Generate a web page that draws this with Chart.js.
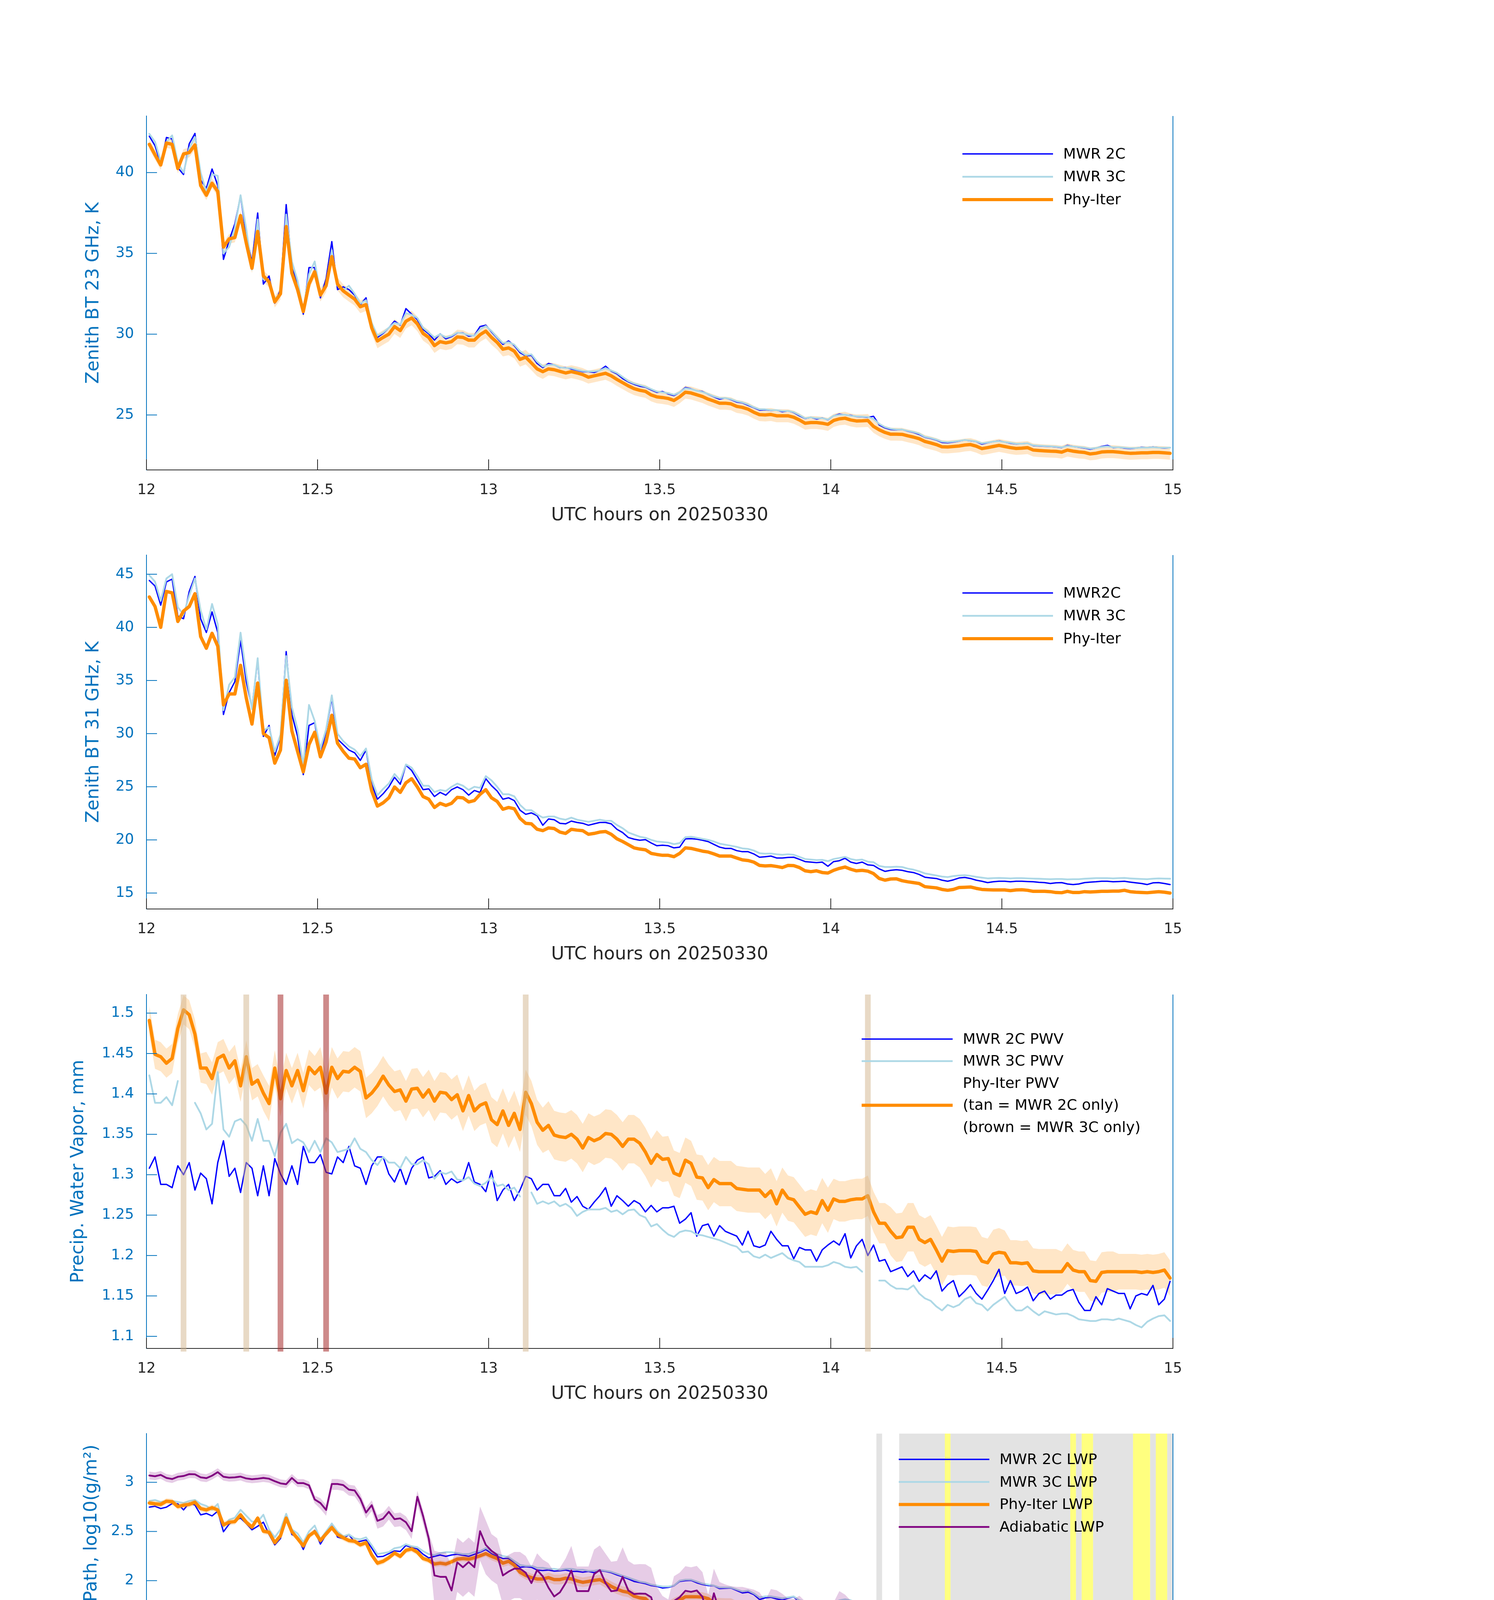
<!DOCTYPE html>
<html>
<head>
<meta charset="utf-8">
<script src="https://cdn.jsdelivr.net/npm/chart.js@4.4.1/dist/chart.umd.min.js"></script>
<style>
html, body { margin: 0; padding: 0; background: #fff; }
body { width: 3825px; height: 6000px; position: relative; overflow: hidden; }
canvas { position: absolute; left: 0; }
</style>
</head>
<body>
<canvas id="p1" width="3825" height="1206"></canvas>
<canvas id="p2" width="3825" height="1206"></canvas>
<canvas id="p3" width="3825" height="1206"></canvas>
<canvas id="p4" width="3825" height="1206"></canvas>
<canvas id="p5" width="3825" height="1206"></canvas>
<script>
// ---- data: one sample per minute, centred on the half minute, 12:00 - 15:00 UTC ----
const xTicks = [12, 12.5, 13, 13.5, 14, 14.5, 15];
const bt23Ticks = [25, 30, 35, 40];
const bt31Ticks = [15, 20, 25, 30, 35, 40, 45];
const pwvTicks = [1.1, 1.15, 1.2, 1.25, 1.3, 1.35, 1.4, 1.45, 1.5];
const lwpTicks = [0, 0.5, 1, 1.5, 2, 2.5, 3];
const flagTicks = [0, 2, 4, 6, 8, 10];

// 23 GHz brightness temperature, K
const bt23Phy = [41.75,41.1,40.47,41.83,41.75,40.25,41.15,41.24,41.71,39.2,38.6,39.34,38.83,35.39,35.9,35.98,37.34,35.64,34.08,36.36,
33.6,33.24,32.0,32.5,36.66,33.78,32.76,31.4,33.1,33.86,32.42,33.0,34.8,33.1,32.68,32.42,32.17,31.7,31.83,30.39,
29.58,29.8,30.0,30.47,30.22,30.8,31.0,30.64,30.05,29.8,29.29,29.54,29.46,29.54,29.83,29.8,29.63,29.63,29.97,30.19,
29.8,29.49,29.07,29.15,28.95,28.44,28.58,28.22,27.85,27.68,27.85,27.8,27.7,27.6,27.68,27.6,27.5,27.34,27.42,27.5,
27.58,27.42,27.2,27.0,26.8,26.63,26.53,26.46,26.24,26.12,26.08,26.02,25.9,26.12,26.41,26.36,26.25,26.14,25.98,25.86,
25.73,25.73,25.69,25.53,25.47,25.36,25.17,25.02,25.0,25.03,24.95,24.95,24.95,24.86,24.69,24.49,24.53,24.53,24.49,24.42,
24.66,24.76,24.8,24.69,24.63,24.64,24.66,24.29,24.08,23.92,23.81,23.81,23.8,23.71,23.63,23.53,23.36,23.27,23.17,23.03,
23.02,23.05,23.08,23.14,23.17,23.07,22.92,22.98,23.05,23.12,23.05,22.98,22.93,22.95,22.98,22.83,22.8,22.78,22.76,22.75,
22.7,22.83,22.76,22.71,22.68,22.59,22.63,22.71,22.73,22.73,22.7,22.66,22.63,22.64,22.66,22.66,22.68,22.68,22.66,22.63];
const bt23Mwr2c = [42.25,41.66,40.56,42.17,42.08,40.3,39.88,41.78,42.42,39.54,39.03,40.22,39.2,34.63,35.81,36.83,38.53,36.15,34.46,37.5,
33.1,33.6,31.92,32.76,38.02,34.12,33.1,31.24,34.12,34.12,32.25,33.44,35.73,32.76,32.93,32.76,32.42,31.83,32.25,30.56,
29.8,30.05,30.39,30.81,30.56,31.58,31.24,30.9,30.3,30.02,29.63,30.02,29.71,29.85,30.08,30.08,29.88,29.92,30.47,30.56,
30.14,29.75,29.37,29.58,29.29,28.86,28.66,28.69,28.19,27.93,28.19,28.1,27.93,27.93,27.85,27.76,27.68,27.68,27.63,27.76,
28.02,27.71,27.54,27.25,27.05,26.9,26.78,26.72,26.55,26.4,26.45,26.3,26.2,26.4,26.7,26.62,26.5,26.45,26.28,26.12,
25.98,26.05,25.95,25.8,25.75,25.6,25.45,25.3,25.32,25.28,25.3,25.2,25.25,25.15,24.95,24.78,24.85,24.75,24.82,24.7,
24.95,25.05,25.0,24.98,24.9,24.88,24.85,24.92,24.38,24.2,24.1,24.08,24.1,24.0,23.92,23.8,23.62,23.55,23.45,23.3,
23.28,23.32,23.38,23.45,23.4,23.35,23.2,23.28,23.35,23.4,23.32,23.25,23.2,23.22,23.25,23.1,23.08,23.06,23.05,23.02,
22.98,23.12,23.05,23.0,22.95,22.88,22.95,23.05,23.12,22.98,23.0,22.95,22.92,22.95,23.0,22.98,23.02,22.98,22.95,22.98];
const bt23Mwr3c = [42.4,41.9,40.7,41.9,42.3,40.6,40.0,41.5,42.2,40.0,38.8,39.9,39.8,35.0,35.4,36.6,38.6,36.5,34.0,37.1,
33.4,33.3,32.2,32.5,37.4,34.5,33.3,31.5,33.7,34.5,32.5,33.1,35.2,33.0,32.7,33.0,32.5,31.9,32.1,30.7,
29.9,30.1,30.4,30.7,30.6,31.3,31.2,31.0,30.4,30.1,29.8,30.0,29.8,29.9,30.1,30.05,29.95,29.9,30.3,30.5,
30.2,29.8,29.45,29.5,29.35,28.95,28.7,28.75,28.3,28.0,28.1,28.1,27.95,27.9,27.9,27.8,27.72,27.7,27.7,27.75,
27.9,27.75,27.6,27.35,27.1,26.95,26.85,26.75,26.6,26.45,26.4,26.35,26.25,26.4,26.65,26.6,26.5,26.42,26.3,26.15,
26.05,26.05,25.98,25.85,25.78,25.65,25.48,25.35,25.35,25.3,25.3,25.25,25.25,25.18,25.0,24.8,24.85,24.8,24.8,24.72,
24.95,25.0,25.02,24.95,24.92,24.9,24.88,24.75,24.45,24.25,24.15,24.1,24.1,24.02,23.95,23.85,23.65,23.58,23.48,23.35,
23.32,23.35,23.4,23.45,23.42,23.36,23.25,23.3,23.35,23.38,23.32,23.28,23.22,23.22,23.25,23.12,23.1,23.08,23.06,23.04,
23.0,23.08,23.05,23.02,22.98,22.92,22.96,23.02,23.06,23.0,23.0,22.98,22.95,22.96,22.98,22.98,23.0,22.98,22.97,22.98];
const bt23PhySigma = [0.3,0.3,0.35,0.4,0.45,0.45,0.45,0.4,0.4,0.4,0.4,0.4,0.4,0.4,0.4,0.4,0.4,0.4];

// 31 GHz brightness temperature, K
const bt31Phy = [42.86,41.96,40.0,43.38,43.25,40.55,41.53,41.96,43.17,39.13,38.03,39.44,38.23,32.7,33.73,33.73,36.43,33.35,30.9,34.76,
30.0,29.62,27.22,28.46,35.02,30.26,28.33,26.4,28.97,30.13,27.81,29.23,31.73,29.1,28.33,27.69,27.61,26.79,27.12,24.6,
23.18,23.49,23.96,24.98,24.47,25.37,25.76,24.98,24.08,23.83,23.05,23.44,23.24,23.44,24.0,23.96,23.57,23.7,24.29,24.73,
23.96,23.62,22.88,23.05,22.93,22.03,21.56,21.51,21.0,20.87,21.13,21.07,20.74,20.61,21.0,20.92,20.87,20.53,20.61,20.74,
20.79,20.53,20.1,19.85,19.55,19.25,19.14,19.07,18.73,18.63,18.55,18.55,18.42,18.73,19.25,19.2,19.07,18.94,18.86,18.68,
18.48,18.48,18.48,18.3,18.12,18.06,17.91,17.6,17.55,17.58,17.5,17.4,17.6,17.58,17.4,17.09,17.01,17.09,16.93,16.88,
17.14,17.32,17.45,17.24,17.09,17.14,17.06,16.83,16.37,16.21,16.32,16.34,16.16,16.06,15.98,15.9,15.6,15.54,15.49,15.34,
15.26,15.34,15.52,15.54,15.57,15.44,15.34,15.31,15.29,15.29,15.29,15.23,15.29,15.31,15.26,15.16,15.16,15.16,15.13,15.05,
15.03,15.16,15.05,15.05,15.13,15.1,15.13,15.16,15.16,15.18,15.18,15.26,15.13,15.08,15.05,15.03,15.08,15.13,15.08,15.0];
const bt31Mwr2c = [44.41,43.89,42.09,44.28,44.54,41.06,40.81,43.38,44.79,40.81,39.52,41.45,39.52,31.8,33.86,34.89,38.75,34.89,32.45,36.95,
29.74,30.77,27.94,29.74,37.72,31.8,29.74,26.14,30.77,31.03,27.94,30.26,33.35,29.49,28.97,28.46,28.2,27.48,28.46,25.24,
23.83,24.34,24.98,25.89,25.24,27.04,26.53,25.63,24.73,24.8,24.08,24.47,24.21,24.73,24.98,24.73,24.21,24.65,24.47,25.76,
25.11,24.6,23.83,23.96,23.7,22.8,22.41,22.54,22.28,21.38,21.97,21.9,21.56,21.51,21.77,21.64,21.56,21.38,21.51,21.64,
21.64,21.51,21.0,20.69,20.22,20.07,19.97,20.02,19.71,19.45,19.5,19.45,19.25,19.32,20.1,20.12,20.07,19.97,19.84,19.58,
19.32,19.2,19.2,18.99,18.89,18.89,18.68,18.37,18.42,18.48,18.3,18.3,18.35,18.37,18.17,17.96,17.91,17.86,17.91,17.52,
17.96,18.04,18.27,17.91,17.78,17.91,17.65,17.6,17.27,17.04,17.14,17.19,17.14,17.01,16.93,16.75,16.49,16.42,16.37,16.21,
16.11,16.24,16.42,16.47,16.37,16.21,16.11,15.98,16.06,16.11,16.11,16.06,16.11,16.11,16.08,16.06,16.01,15.98,15.9,15.96,
15.98,15.85,15.8,15.85,15.98,16.03,16.06,16.11,16.11,16.06,16.08,16.11,16.03,15.96,15.9,15.8,15.96,15.98,15.9,15.8];
const bt31Mwr3c = [44.9,44.3,42.5,44.6,45.0,41.9,41.2,43.0,44.6,41.6,39.8,42.2,40.3,32.2,34.6,35.3,39.5,35.6,32.3,37.1,
30.3,30.6,28.3,29.9,37.3,32.5,30.4,27.0,32.7,31.2,28.6,30.4,33.6,30.0,29.3,28.8,28.5,27.9,28.6,25.7,
24.2,24.8,25.3,26.2,25.6,27.1,26.8,26.0,25.1,25.1,24.5,24.7,24.6,25.0,25.3,25.1,24.7,25.0,24.9,26.0,
25.6,25.0,24.3,24.3,24.1,23.3,22.8,22.8,22.4,22.1,22.2,22.2,22.0,21.9,22.1,21.9,21.8,21.7,21.8,21.9,
21.8,21.8,21.4,21.1,20.7,20.5,20.3,20.2,20.0,19.85,19.8,19.75,19.6,19.7,20.25,20.3,20.2,20.1,20.0,19.85,
19.65,19.55,19.45,19.35,19.2,19.15,19.0,18.75,18.7,18.72,18.65,18.6,18.65,18.6,18.4,18.2,18.15,18.1,18.12,18.0,
18.2,18.3,18.4,18.2,18.1,18.15,17.95,17.9,17.55,17.45,17.45,17.48,17.45,17.3,17.2,17.05,16.85,16.75,16.65,16.55,
16.5,16.6,16.65,16.68,16.62,16.52,16.45,16.38,16.4,16.42,16.4,16.38,16.4,16.4,16.38,16.36,16.35,16.32,16.3,16.32,
16.32,16.28,16.3,16.3,16.35,16.38,16.4,16.4,16.4,16.38,16.4,16.42,16.38,16.35,16.32,16.3,16.35,16.38,16.36,16.35];

// precipitable water vapor, mm
const pwvPhy = [1.491,1.449,1.446,1.438,1.444,1.481,1.504,1.498,1.474,1.432,1.432,1.419,1.444,1.448,1.432,1.441,1.41,1.446,1.412,1.417,
1.401,1.388,1.432,1.394,1.429,1.41,1.429,1.404,1.433,1.425,1.433,1.401,1.433,1.419,1.428,1.427,1.433,1.428,1.395,1.401,
1.41,1.422,1.411,1.403,1.405,1.391,1.406,1.407,1.396,1.405,1.391,1.402,1.401,1.393,1.399,1.379,1.398,1.379,1.386,1.389,
1.368,1.362,1.379,1.361,1.376,1.356,1.402,1.388,1.365,1.355,1.361,1.349,1.347,1.346,1.35,1.344,1.333,1.346,1.342,1.345,
1.351,1.35,1.344,1.335,1.344,1.344,1.339,1.328,1.314,1.325,1.319,1.32,1.302,1.299,1.318,1.314,1.297,1.296,1.284,1.294,
1.289,1.289,1.289,1.283,1.282,1.281,1.281,1.281,1.273,1.28,1.264,1.281,1.271,1.269,1.26,1.251,1.254,1.252,1.268,1.256,
1.27,1.267,1.267,1.269,1.27,1.27,1.274,1.254,1.24,1.24,1.23,1.222,1.223,1.235,1.235,1.22,1.216,1.22,1.207,1.193,
1.206,1.205,1.206,1.206,1.206,1.205,1.193,1.191,1.202,1.204,1.203,1.191,1.191,1.19,1.191,1.181,1.18,1.18,1.18,1.18,
1.18,1.19,1.182,1.18,1.18,1.169,1.168,1.179,1.18,1.18,1.18,1.18,1.18,1.18,1.179,1.18,1.179,1.18,1.182,1.172];
const pwvMwr2c = [1.308,1.322,1.288,1.288,1.284,1.311,1.3,1.315,1.281,1.302,1.295,1.264,1.315,1.342,1.298,1.308,1.278,1.315,1.308,1.274,
1.311,1.274,1.32,1.301,1.288,1.311,1.288,1.335,1.315,1.315,1.325,1.303,1.301,1.322,1.315,1.335,1.311,1.308,1.288,1.311,
1.322,1.322,1.301,1.291,1.308,1.288,1.308,1.318,1.322,1.296,1.298,1.305,1.288,1.295,1.29,1.293,1.315,1.291,1.288,1.279,
1.305,1.268,1.281,1.288,1.268,1.281,1.298,1.295,1.281,1.288,1.288,1.274,1.274,1.283,1.266,1.273,1.261,1.257,1.266,1.274,
1.284,1.261,1.274,1.268,1.261,1.268,1.264,1.254,1.262,1.254,1.259,1.259,1.261,1.24,1.245,1.253,1.224,1.237,1.239,1.224,
1.237,1.23,1.227,1.224,1.213,1.23,1.212,1.21,1.213,1.23,1.22,1.212,1.212,1.196,1.21,1.207,1.207,1.193,1.207,1.213,
1.218,1.213,1.227,1.197,1.212,1.22,1.2,1.213,1.193,1.195,1.18,1.183,1.186,1.174,1.181,1.168,1.176,1.171,1.181,1.156,
1.164,1.169,1.149,1.156,1.164,1.153,1.146,1.157,1.169,1.183,1.153,1.169,1.153,1.156,1.161,1.144,1.153,1.156,1.146,1.151,
1.151,1.156,1.158,1.142,1.132,1.132,1.149,1.139,1.159,1.156,1.153,1.153,1.134,1.15,1.153,1.151,1.163,1.139,1.146,1.168];
const pwvMwr3c = [1.423,1.389,1.389,1.396,1.386,1.416,null,null,1.389,1.376,1.356,1.363,1.427,1.356,1.347,1.366,1.369,1.361,1.342,1.369,
1.342,1.342,1.323,1.352,1.363,1.339,1.344,1.34,1.328,1.342,1.328,1.345,1.34,1.328,1.33,1.332,1.345,1.332,1.328,1.318,
1.312,1.322,1.315,1.315,1.308,1.322,1.313,1.313,1.318,1.313,1.295,1.303,1.301,1.304,1.294,1.293,1.297,1.289,1.286,1.29,
1.297,1.286,1.288,1.281,1.284,1.273,null,1.278,1.264,1.267,1.264,1.267,1.261,1.264,1.259,1.249,1.254,1.257,1.257,1.257,
1.259,1.254,1.256,1.251,1.256,1.257,1.25,1.247,1.236,1.239,1.232,1.226,1.223,1.229,1.231,1.23,1.226,1.225,1.223,1.221,
1.219,1.216,1.213,1.211,1.204,1.205,1.199,1.197,1.201,1.197,1.2,1.203,1.197,1.194,1.192,1.186,1.186,1.186,1.186,1.188,
1.192,1.19,1.186,1.185,1.186,1.18,null,null,1.169,1.169,1.163,1.159,1.159,1.158,1.163,1.153,1.147,1.144,1.137,1.132,
1.139,1.136,1.139,1.146,1.149,1.141,1.139,1.132,1.139,1.144,1.149,1.139,1.132,1.132,1.137,1.131,1.126,1.131,1.129,1.127,
1.128,1.128,1.125,1.121,1.12,1.119,1.119,1.121,1.121,1.12,1.122,1.12,1.118,1.114,1.111,1.118,1.122,1.125,1.126,1.119];
const pwvPhySigma = [0.018,0.02,0.022,0.025,0.025,0.025,0.028,0.03,0.03,0.028,0.028,0.028,0.025,0.03,0.03,0.028,0.025,0.022];
const pwvTanMinutes = [6, 17, 66, 126];   // MWR 2C only
const pwvBrownMinutes = [23, 31];        // MWR 3C only

// log10 liquid water path, log10(g/m2)
const lwpPhy = [2.789,2.781,2.775,2.808,2.803,2.753,2.767,2.775,2.797,2.733,2.719,2.742,2.719,2.567,2.594,2.6,2.669,2.594,2.544,2.636,
2.503,2.492,2.386,2.456,2.636,2.497,2.428,2.353,2.456,2.497,2.408,2.475,2.539,2.469,2.436,2.408,2.4,2.364,2.386,2.261,
2.178,2.197,2.233,2.281,2.247,2.308,2.322,2.289,2.225,2.206,2.169,2.178,2.169,2.192,2.219,2.225,2.219,2.233,2.253,2.275,
2.247,2.225,2.178,2.197,2.158,2.086,2.053,2.031,2.017,2.017,2.031,2.011,2.011,2.025,2.019,1.997,1.983,1.992,2.003,2.011,
1.978,1.942,1.914,1.892,1.881,1.842,1.825,1.817,1.761,1.742,1.739,1.739,1.775,1.803,1.836,1.836,1.836,1.833,1.817,1.775,
1.764,1.761,1.761,1.733,1.714,1.697,1.644,1.586,1.592,1.581,1.575,1.581,1.603,1.594,1.539,1.456,1.456,1.483,1.4,1.428,
1.483,1.519,1.525,1.483,1.456,1.461,1.442,1.386,1.247,1.094,1.186,1.297,1.286,0.983,0.914,1.025,0.428,0.414,0.025,-0.45,
-1.8,-1.5,0.47,0.233,0.697,-0.35,null,null,null,null,null,null,null,null,null,null,null,null,null,null,
null,null,null,null,null,null,null,null,null,null,null,null,null,null,null,null,null,null,null,null];
const lwpPhySigma = [0.03,0.03,0.03,0.03,0.03,0.03,0.04,0.05,0.05,0.05,0.06,0.06,0.08];
const lwpPhyTailHi = [1.45,0.85,1.4,1.47,1.45,1.3,1.15,1.25,1.2,1.05,0.95,0.9,null,1.15,1.19,1.1,1.27,1.1,0.97,0.9,
0.85,0.8,0.9,0.98,0.98,0.9,0.85,0.8,0.78,0.72,0.69,0.85,0.95,0.85,null,0.8,null,null,0.82,0.85,
0.82,0.8,0.8,0.95,1.15,null,null,null,0.71,null,null,0.71];
const lwpPhyTailLo = -0.5;
const lwpMwr2c = [2.747,2.756,2.733,2.747,2.783,2.781,2.719,2.789,2.769,2.669,2.683,2.658,2.706,2.497,2.575,2.614,2.636,2.581,2.517,2.553,
2.594,2.469,2.364,2.428,2.65,2.469,2.442,2.317,2.456,2.511,2.372,2.469,2.581,2.442,2.428,2.469,2.392,2.4,2.414,2.331,
2.242,2.247,2.275,2.303,2.297,2.358,2.336,2.322,2.269,2.231,2.247,2.261,2.247,2.261,2.269,2.258,2.247,2.267,2.289,2.317,
2.275,2.247,2.225,2.225,2.178,2.136,2.142,2.136,2.108,2.103,2.108,2.097,2.1,2.108,2.094,2.094,2.086,2.094,2.081,2.103,
2.094,2.081,2.058,2.039,2.017,1.992,1.981,1.969,1.95,1.942,1.925,1.931,1.947,1.992,2.0,2.003,1.978,1.961,1.95,1.947,
1.919,1.922,1.925,1.9,1.875,1.883,1.858,1.808,1.825,1.831,1.814,1.803,1.822,1.836,1.781,1.778,1.767,1.756,1.747,1.692,
1.767,1.797,1.803,1.792,1.775,1.761,1.753,1.747,1.714,1.631,1.656,1.681,1.686,1.642,1.631,1.622,1.519,1.5,1.483,1.464,
1.447,1.492,1.564,1.542,1.567,1.492,1.469,1.381,1.442,1.431,1.453,1.469,1.481,1.464,1.447,1.428,1.419,1.408,1.364,1.392,
1.4,1.392,1.378,1.408,1.481,1.447,1.419,1.436,1.442,1.431,1.453,1.464,1.442,1.419,1.397,1.386,1.428,1.442,1.419,1.381];
const lwpMwr3c = [2.81,2.82,2.8,2.81,2.81,2.8,2.79,2.81,2.82,2.78,2.76,2.72,2.78,2.55,2.62,2.64,2.72,2.66,2.6,2.6,
2.67,2.52,2.44,2.52,2.68,2.52,2.48,2.39,2.5,2.56,2.42,2.5,2.58,2.5,2.45,2.47,2.43,2.42,2.44,2.36,
2.27,2.28,2.29,2.33,2.34,2.37,2.35,2.34,2.3,2.27,2.26,2.28,2.29,2.29,2.28,2.27,2.27,2.29,2.3,2.33,
2.3,2.27,2.25,2.24,2.2,2.16,2.15,2.15,2.13,2.13,2.12,2.12,2.11,2.12,2.12,2.11,2.11,2.1,2.1,2.11,
2.1,2.09,2.07,2.05,2.03,2.01,1.99,1.98,1.96,1.95,1.94,1.94,1.95,2.0,2.01,2.01,1.99,1.97,1.96,1.95,
1.93,1.93,1.93,1.91,1.89,1.9,1.87,1.83,1.84,1.84,1.83,1.82,1.83,1.84,1.8,1.79,1.79,1.77,1.77,1.76,
1.78,1.8,1.81,1.8,1.78,1.77,1.76,1.75,1.72,1.66,1.67,1.69,1.69,1.66,1.64,1.63,1.54,1.51,1.49,1.48,
1.47,1.49,1.53,1.53,1.55,1.5,1.47,1.43,1.45,1.44,1.45,1.46,1.47,1.46,1.45,1.44,1.43,1.43,1.4,1.41,
1.41,1.41,1.4,1.42,1.45,1.44,1.43,1.44,1.44,1.43,1.44,1.45,1.44,1.43,1.42,1.41,1.43,1.44,1.42,1.4];
const lwpAdiabatic = [3.069,3.061,3.075,3.044,3.033,3.056,3.064,3.083,3.081,3.05,3.042,3.067,3.103,3.056,3.047,3.05,3.058,3.039,3.031,3.036,
3.044,3.036,3.011,2.989,2.981,3.044,2.992,2.992,2.969,2.825,2.789,2.719,2.983,2.983,2.972,2.925,2.917,2.831,2.692,2.767,
2.608,2.631,2.7,2.625,2.633,2.594,2.503,2.853,2.658,2.428,2.053,2.039,2.039,1.9,2.186,2.136,2.189,2.136,2.503,2.364,
2.303,2.261,2.053,2.092,2.122,2.122,2.081,1.975,2.108,2.044,1.928,1.839,1.881,1.975,2.103,1.894,1.894,1.894,2.067,2.108,
1.975,1.892,1.9,2.039,1.9,1.864,1.869,1.867,1.831,1.636,1.594,1.558,1.794,1.831,1.897,1.886,1.9,1.836,1.608,1.872,
1.686,1.661,1.644,1.636,1.636,1.622,1.608,1.581,1.497,1.614,1.603,1.567,1.519,1.511,1.547,1.489,1.419,1.419,1.419,1.469,
1.478,1.594,1.558,1.497,1.469,1.483,1.475,1.447,1.081,1.122,1.261,1.183,1.067,1.067,1.067,1.067,1.067,1.067,1.067,1.067,
null,1.067,1.067,1.067,1.067,1.067,1.067,1.067,1.067,1.067,1.067,1.067,1.067,1.067,1.067,1.067,1.067,1.067,1.067,1.067,
1.067,1.067,null,1.067,null,null,1.067,1.067,1.067,1.067,1.067,1.067,1.067,null,null,null,1.067,null,null,1.067];
const lwpAdiaSigmaUp = [0.04,0.04,0.04,0.05,0.06,0.25,0.17,0.25,0.3,0.25,0.3,0.3,0.3,0.35,0.35,0.35,0.35,0.35];
const lwpAdiaSigmaDn = [0.04,0.04,0.04,0.06,0.08,0.3,0.3,0.3,0.3,0.4,0.45,0.4,0.4,0.6,0.6,0.6,0.6,0.6];

// MWR Phy-Iter data quality flag
const dqFlag = [0,0,0,0,0,0,0,0,0,0,0,0,0,0,0,0,0,0,0,0,
0,0,0,0,0,0,0,0,0,6,0,0,0,0,0,0,0,0,0,0,
0,0,0,0,0,0,0,0,0,0,0,0,0,0,0,0,0,0,0,0,
0,0,0,0,0,0,0,0,0,0,0,0,0,0,0,0,0,0,0,0,
0,0,0,0,0,0,0,0,0,0,0,0,0,0,0,0,0,0,0,0,
0,0,0,0,0,0,0,0,0,0,0,0,0,0,0,0,0,0,0,0,
0,0,0,0,0,0,0,0,4,0,0,0,4,4,4,4,4,4,4,4,
5,4,4,4,4,4,4,4,4,4,4,4,4,4,4,4,4,4,4,4,
4,4,5,4,5,5,4,4,4,4,4,4,4,5,5,5,4,5,5,4];

// ---- styling ----
const FONT = 'DejaVu Sans';
const AXBLUE = '#0072BD', AXDARK = '#262626';
const BLUE = '#0000FF', LBLUE = '#ADD8E6', ORANGE = '#FF8C00', PURPLE = '#800080';
const ORANGE_BAND = 'rgba(255,140,0,0.22)', PURPLE_BAND = 'rgba(128,0,128,0.2)';
const PLOT_TOPS = [297, 1421, 2546, 3670, 4796];
Chart.defaults.font.family = FONT;

const sampleStart = 12 + 0.5 / 60, sampleStep = 1 / 60;
const tOf = k => sampleStart + k * sampleStep;
const pts = arr => arr.map((v, k) => ({ x: tOf(k), y: v }));
const seg = k => Math.floor(k / 10);

const line = (arr, color, width, extra) => Object.assign({
  data: pts(arr), borderColor: color, borderWidth: width, pointRadius: 0,
  fill: false, spanGaps: false, borderJoinStyle: 'round', borderCapStyle: 'round'
}, extra || {});
const edge = (arr, fillTo, color) => ({
  data: pts(arr), borderWidth: 0, borderColor: 'rgba(0,0,0,0)', pointRadius: 0,
  fill: fillTo, backgroundColor: color || 'rgba(0,0,0,0)', spanGaps: false
});

function xScale() {
  return {
    type: 'linear', min: 12, max: 15,
    afterBuildTicks: s => { s.ticks = xTicks.map(v => ({ value: v })); },
    afterFit: s => { s.height = 200; },
    grid: { display: false, drawTicks: false },
    border: { display: true, color: AXDARK, width: 2 },
    ticks: { color: AXDARK, font: { size: 37 }, padding: 30, maxRotation: 0, autoSkip: false, callback: v => String(v) },
    title: { display: true, text: 'UTC hours on 20250330', color: AXDARK, font: { size: 46 }, padding: { top: 0, bottom: 55 } }
  };
}
function yScale(min, max, ticks, text, pad) {
  return {
    type: 'linear', min, max,
    afterBuildTicks: s => { s.ticks = ticks.map(v => ({ value: v })); },
    afterFit: s => { s.width = 375; },
    grid: { display: false, drawTicks: false },
    border: { display: true, color: AXBLUE, width: 2 },
    ticks: { color: AXBLUE, font: { size: 37 }, padding: 32, autoSkip: false, callback: v => String(+v.toFixed(2)) },
    title: { display: true, text, color: AXBLUE, font: { size: 46 }, padding: { top: pad, bottom: 0 } }
  };
}

function shade(chart, k0, k1, color, below) {
  const { ctx, chartArea: a, scales: { x } } = chart;
  const x0 = x.getPixelForValue(tOf(k0) - sampleStep / 2);
  const x1 = x.getPixelForValue(tOf(k1) + sampleStep / 2);
  ctx.fillStyle = color;
  ctx.fillRect(x0, a.top, x1 - x0, a.bottom - a.top + below);
}

const legends = {
  p1: { x0: 2464, x1: 2696, tx: 2722, y0: 97, dy: 58.5, rows: [
    { t: 'MWR 2C', c: BLUE, w: 3.5 }, { t: 'MWR 3C', c: LBLUE, w: 4.5 }, { t: 'Phy-Iter', c: ORANGE, w: 8 }] },
  p2: { x0: 2464, x1: 2696, tx: 2722, y0: 97, dy: 58.5, rows: [
    { t: 'MWR2C', c: BLUE, w: 3.5 }, { t: 'MWR 3C', c: LBLUE, w: 4.5 }, { t: 'Phy-Iter', c: ORANGE, w: 8 }] },
  p3: { x0: 2206, x1: 2439, tx: 2465, y0: 114, dy: 56.5, rows: [
    { t: 'MWR 2C PWV', c: BLUE, w: 3.5 }, { t: 'MWR 3C PWV', c: LBLUE, w: 4.5 }, { t: 'Phy-Iter PWV' },
    { t: '(tan = MWR 2C only)', c: ORANGE, w: 8 }, { t: '(brown = MWR 3C only)' }] },
  p4: { x0: 2301, x1: 2533, tx: 2559, y0: 66, dy: 57.7, rows: [
    { t: 'MWR 2C LWP', c: BLUE, w: 3.5 }, { t: 'MWR 3C LWP', c: LBLUE, w: 4.5 },
    { t: 'Phy-Iter LWP', c: ORANGE, w: 8 }, { t: 'Adiabatic LWP', c: PURPLE, w: 4.5 }] }
};

const overlays = {
  p3: chart => {
    pwvTanMinutes.forEach(k => shade(chart, k, k, 'rgba(210,180,140,0.5)', 8));
    pwvBrownMinutes.forEach(k => shade(chart, k, k, 'rgba(165,42,42,0.55)', 8));
  },
  p4: chart => {
    let k = 0;
    while (k < dqFlag.length) {
      const f = dqFlag[k];
      let j = k;
      while (j + 1 < dqFlag.length && dqFlag[j + 1] === f) j++;
      if (f === 4) shade(chart, k, j, 'rgba(200,200,200,0.5)', 0);
      if (f === 5) shade(chart, k, j, 'rgba(255,255,0,0.5)', 0);
      k = j + 1;
    }
  }
};

const framePlugin = {
  id: 'frame',
  afterDatasetsDraw(chart) {
    const fn = overlays[chart.canvas.id];
    if (fn) { chart.ctx.save(); fn(chart); chart.ctx.restore(); }
  },
  afterDraw(chart) {
    const { ctx, chartArea: a, scales: { x, y } } = chart;
    ctx.save();
    ctx.lineWidth = 2;
    ctx.strokeStyle = AXBLUE;
    ctx.beginPath(); ctx.moveTo(a.right, a.top); ctx.lineTo(a.right, a.bottom); ctx.stroke();
    y.ticks.forEach(t => {
      const py = y.getPixelForValue(t.value);
      ctx.beginPath(); ctx.moveTo(a.left, py); ctx.lineTo(a.left + 27, py); ctx.stroke();
    });
    ctx.strokeStyle = AXDARK;
    x.ticks.forEach(t => {
      const px = x.getPixelForValue(t.value);
      ctx.beginPath(); ctx.moveTo(px, a.bottom); ctx.lineTo(px, a.bottom - 27); ctx.stroke();
    });
    const leg = legends[chart.canvas.id];
    if (leg) {
      ctx.font = '38px "' + FONT + '"';
      ctx.textBaseline = 'middle';
      ctx.textAlign = 'left';
      ctx.fillStyle = '#000';
      leg.rows.forEach((r, i) => {
        const ly = a.top + leg.y0 + i * leg.dy;
        if (r.c) {
          ctx.strokeStyle = r.c; ctx.lineWidth = r.w;
          ctx.beginPath(); ctx.moveTo(leg.x0, ly); ctx.lineTo(leg.x1, ly); ctx.stroke();
        }
        ctx.fillText(r.t, leg.tx, ly + 2);
      });
    }
    ctx.restore();
  }
};

function makeChart(id, idx, datasets, y) {
  const cv = document.getElementById(id);
  cv.style.top = (PLOT_TOPS[idx] - 100) + 'px';
  return new Chart(cv, {
    type: 'line',
    data: { datasets },
    options: {
      responsive: false, animation: false, devicePixelRatio: 1,
      layout: { padding: { top: 100, right: 822, bottom: 0, left: 0 } },
      plugins: { legend: { display: false }, tooltip: { enabled: false } },
      scales: { x: xScale(), y }
    },
    plugins: [framePlugin]
  });
}

// bands built from the read values and their uncertainty
const bt23Hi = bt23Phy.map((v, k) => v + bt23PhySigma[seg(k)]);
const bt23Lo = bt23Phy.map((v, k) => v - bt23PhySigma[seg(k)]);
const pwvHi = pwvPhy.map((v, k) => v + pwvPhySigma[seg(k)]);
const pwvLo = pwvPhy.map((v, k) => v - pwvPhySigma[seg(k)]);
const lwpPhyHi = lwpPhy.map((v, k) => k < 128 ? v + lwpPhySigma[seg(k)] : lwpPhyTailHi[k - 128]);
const lwpPhyLo = lwpPhy.map((v, k) => k < 128 ? v - lwpPhySigma[seg(k)] : (lwpPhyTailHi[k - 128] == null ? null : lwpPhyTailLo));
const adiaHi = lwpAdiabatic.map((v, k) => v == null ? null : v + lwpAdiaSigmaUp[seg(k)]);
const adiaLo = lwpAdiabatic.map((v, k) => v == null ? null : v - lwpAdiaSigmaDn[seg(k)]);
const isolated = (arr, i) => arr[i] != null && (i === 0 || arr[i - 1] == null) && (i === arr.length - 1 || arr[i + 1] == null);

makeChart('p1', 0, [
  line(bt23Phy, ORANGE, 8.5),
  line(bt23Mwr3c, LBLUE, 4.5),
  line(bt23Mwr2c, BLUE, 3.5),
  edge(bt23Hi, '+1', ORANGE_BAND),
  edge(bt23Lo, false)
], yScale(21.6, 43.5, bt23Ticks, 'Zenith BT 23 GHz, K', 212));

makeChart('p2', 1, [
  line(bt31Phy, ORANGE, 8.5),
  line(bt31Mwr3c, LBLUE, 4.5),
  line(bt31Mwr2c, BLUE, 3.5)
], yScale(13.5, 46.8, bt31Ticks, 'Zenith BT 31 GHz, K', 212));

makeChart('p3', 2, [
  line(pwvPhy, ORANGE, 8.5),
  line(pwvMwr3c, LBLUE, 4.5),
  line(pwvMwr2c, BLUE, 3.5),
  edge(pwvHi, '+1', ORANGE_BAND),
  edge(pwvLo, false)
], yScale(1.085, 1.523, pwvTicks, 'Precip. Water Vapor, mm', 173));

makeChart('p4', 3, [
  line(lwpAdiabatic, PURPLE, 4.5, {
    pointRadius: c => isolated(lwpAdiabatic, c.dataIndex) ? 15 : 0,
    pointStyle: 'crossRot', pointBorderWidth: 6, pointBorderColor: PURPLE, pointBackgroundColor: PURPLE
  }),
  edge(adiaHi, '+1', PURPLE_BAND),
  edge(adiaLo, false),
  line(lwpPhy, ORANGE, 8.5),
  edge(lwpPhyHi, '+1', ORANGE_BAND),
  edge(lwpPhyLo, false),
  line(lwpMwr3c, LBLUE, 4.5),
  line(lwpMwr2c, BLUE, 3.5)
], yScale(-0.103, 3.495, lwpTicks, 'log10 Liquid Water Path, log10(g/m²)', 207));

makeChart('p5', 4, [
  { data: pts(dqFlag), showLine: false, pointRadius: 3.5, pointBorderWidth: 0,
    pointBackgroundColor: ORANGE, backgroundColor: ORANGE, borderColor: ORANGE }
], yScale(-0.5, 11.5, flagTicks, 'MWR Phy Iter DQ Flag', 212));
</script>
</body>
</html>
